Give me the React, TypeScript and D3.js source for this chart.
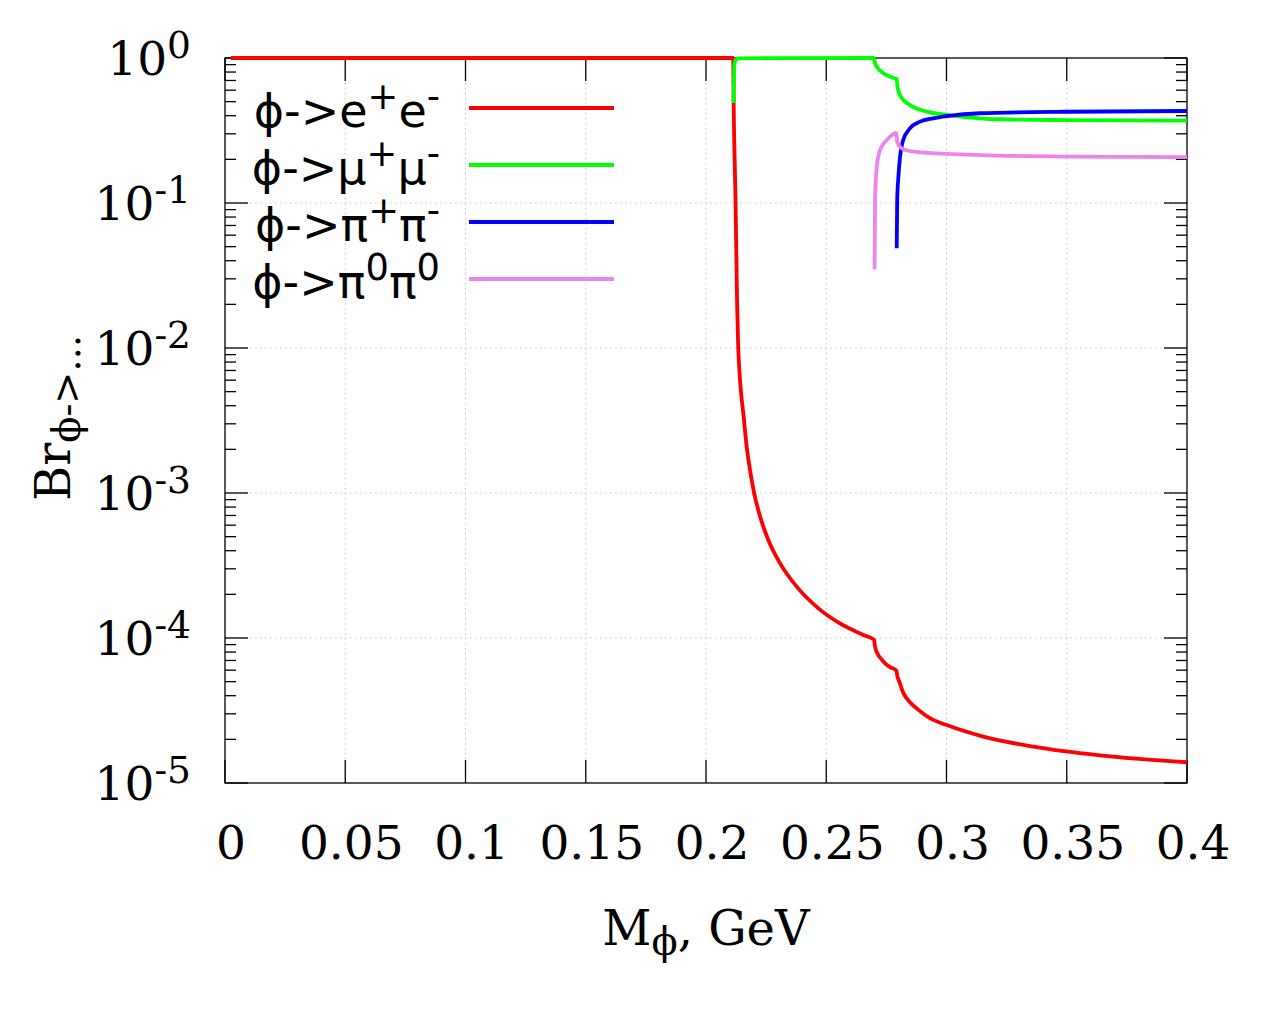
import * as d3 from "d3";

// phi -> e+ e-
const eeMass = [0.0025, 0.2113, 0.2115, 0.2123, 0.2129, 0.2134, 0.2158, 0.2169, 0.2183, 0.22, 0.2225, 0.2259, 0.2308, 0.2377, 0.246, 0.2557, 0.2654, 0.2699, 0.2703, 0.2715, 0.2731, 0.2744, 0.2765, 0.2792, 0.2796, 0.28, 0.282, 0.2848, 0.2876, 0.2931, 0.3001, 0.3153, 0.3361, 0.3638, 0.4];
const eeBr = [1, 1, 0.49, 0.1, 0.0214, 0.01, 3.19e-3, 2.09e-3, 1.44e-3, 1.0e-3, 6.87e-4, 4.74e-4, 3.27e-4, 2.26e-4, 1.64e-4, 1.26e-4, 1.05e-4, 9.7e-5, 8.7e-5, 7.7e-5, 7.1e-5, 6.7e-5, 6.3e-5, 5.95e-5, 5.4e-5, 5.2e-5, 4.2e-5, 3.6e-5, 3.27e-5, 2.8e-5, 2.51e-5, 2.09e-5, 1.78e-5, 1.55e-5, 1.39e-5];

// phi -> mu+ mu-
const mumuMass = [0.2115, 0.2118, 0.2125, 0.2135, 0.2697, 0.2701, 0.2705, 0.271, 0.2737, 0.276, 0.2786, 0.2793, 0.2796, 0.281, 0.2848, 0.2918, 0.3003, 0.3139, 0.3222, 0.35, 0.4];
const mumuBr = [0.49, 0.9, 0.975, 0.995, 0.9999, 0.95, 0.9, 0.87, 0.785, 0.75, 0.724, 0.714, 0.634, 0.541, 0.474, 0.427, 0.405, 0.384, 0.378, 0.373, 0.37];

// phi -> pi+ pi-
const pipiMass = [0.2793, 0.2795, 0.28, 0.2807, 0.282, 0.2848, 0.289, 0.2945, 0.3003, 0.3139, 0.35, 0.4];
const pipiBr = [0.0487, 0.105, 0.152, 0.209, 0.272, 0.327, 0.364, 0.384, 0.398, 0.416, 0.426, 0.431];

// phi -> pi0 pi0
const pi0Mass = [0.2701, 0.2703, 0.271, 0.2724, 0.2752, 0.2786, 0.2791, 0.2795, 0.2814, 0.2862, 0.3003, 0.3139, 0.35, 0.4];
const pi0Br = [0.0349, 0.105, 0.178, 0.232, 0.272, 0.303, 0.305, 0.265, 0.238, 0.226, 0.218, 0.214, 0.209, 0.207];

const xTicks = [0, 0.05, 0.1, 0.15, 0.2, 0.25, 0.3, 0.35, 0.4];
const yExponents = [0, -1, -2, -3, -4, -5];

const seriesLabels = [
  { base: "ϕ->", a: "e", sa: "+", b: "e", sb: "-" },
  { base: "ϕ->", a: "μ", sa: "+", b: "μ", sb: "-" },
  { base: "ϕ->", a: "π", sa: "+", b: "π", sb: "-" },
  { base: "ϕ->", a: "π", sa: "0", b: "π", sb: "0" },
];
const seriesColors = ["#ff0000", "#00ff00", "#0000ff", "#ee82ee"];

const W = 1280;
const H = 1024;
const left = 225;
const right = 1187;
const top = 58;
const bottom = 783;

const serif = "'DejaVu Serif', serif";
const sans = "'DejaVu Sans', sans-serif";

const App = () => {
  const x = d3.scaleLinear().domain([0, 0.4]).range([left, right]);
  const y = d3.scaleLog().domain([1e-5, 1]).range([bottom, top]);

  const line = d3
    .line<[number, number]>()
    .x((d) => x(d[0]))
    .y((d) => y(d[1]))
    .curve(d3.curveMonotoneX);

  const series = [
    d3.zip(eeMass, eeBr),
    d3.zip(mumuMass, mumuBr),
    d3.zip(pipiMass, pipiBr),
    d3.zip(pi0Mass, pi0Br),
  ] as [number, number][][];

  // minor ticks for the log axis
  const minor: number[] = [];
  for (let e = -5; e < 0; e++) {
    for (let k = 2; k <= 9; k++) minor.push(k * Math.pow(10, e));
  }

  const legendY = [108, 165, 222, 279];

  return (
    <svg width={W} height={H} style={{ position: "absolute", left: 0, top: 0, background: "#fff" }}>
      {/* grid */}
      <g stroke="#c4c4c4" strokeWidth={1} strokeDasharray="1.5,3.5">
        {xTicks.slice(1, -1).map((t) => (
          <line key={"gx" + t} x1={x(t)} x2={x(t)} y1={top} y2={bottom} />
        ))}
        {yExponents.slice(1, -1).map((e) => (
          <line key={"gy" + e} x1={left} x2={right} y1={y(Math.pow(10, e))} y2={y(Math.pow(10, e))} />
        ))}
      </g>

      {/* frame and ticks */}
      <g stroke="#000" strokeWidth={1.3}>
        <rect x={left} y={top} width={right - left} height={bottom - top} fill="none" />
        {xTicks.map((t) => (
          <g key={"tx" + t}>
            <line x1={x(t)} x2={x(t)} y1={bottom} y2={bottom - 23} />
            <line x1={x(t)} x2={x(t)} y1={top} y2={top + 23} />
          </g>
        ))}
        {yExponents.map((e) => (
          <g key={"ty" + e}>
            <line x1={left} x2={left + 23} y1={y(Math.pow(10, e))} y2={y(Math.pow(10, e))} />
            <line x1={right} x2={right - 23} y1={y(Math.pow(10, e))} y2={y(Math.pow(10, e))} />
          </g>
        ))}
        {minor.map((v) => (
          <g key={"my" + v}>
            <line x1={left} x2={left + 11} y1={y(v)} y2={y(v)} />
            <line x1={right} x2={right - 11} y1={y(v)} y2={y(v)} />
          </g>
        ))}
      </g>

      {/* tick labels */}
      <g fontFamily={serif} fontSize={47} fill="#000">
        {xTicks.map((t) => (
          <text key={"lx" + t} x={x(t) + 6} y={859} textAnchor="middle">
            {String(+t.toFixed(2))}
          </text>
        ))}
        {yExponents.map((e) => (
          <text key={"ly" + e} x={191} y={y(Math.pow(10, e)) + 17} textAnchor="end">
            10
            <tspan dy={-17} fontSize={37.6}>
              {String(e)}
            </tspan>
          </text>
        ))}
      </g>

      {/* axis titles */}
      <text x={(left + right) / 2} y={945} textAnchor="middle" fontFamily={serif} fontSize={48}>
        M
        <tspan dy={10} fontSize={38.4}>
          ϕ
        </tspan>
        <tspan dy={-10}>, GeV</tspan>
      </text>
      <text transform="translate(70,501) rotate(-90)" fontFamily={serif} fontSize={48}>
        Br
        <tspan dy={10} fontSize={38.4}>
          ϕ-&gt;...
        </tspan>
      </text>

      {/* curves */}
      <g fill="none" strokeWidth={3.8} strokeLinejoin="round">
        {series.map((s, i) => (
          <path key={"s" + i} d={line(s) ?? ""} stroke={seriesColors[i]} />
        ))}
      </g>

      {/* legend */}
      <g fontFamily={sans} fontSize={46}>
        {seriesLabels.map((l, i) => (
          <g key={"lg" + i}>
            <text x={440} y={legendY[i] + 19} textAnchor="end">
              {l.base + l.a}
              <tspan dy={-18} fontSize={36.8}>
                {l.sa}
              </tspan>
              <tspan dy={18}>{l.b}</tspan>
              <tspan dy={-18} fontSize={36.8}>
                {l.sb}
              </tspan>
            </text>
            <line x1={469} x2={614} y1={legendY[i]} y2={legendY[i]} stroke={seriesColors[i]} strokeWidth={3.8} />
          </g>
        ))}
      </g>
    </svg>
  );
};

export default App;
